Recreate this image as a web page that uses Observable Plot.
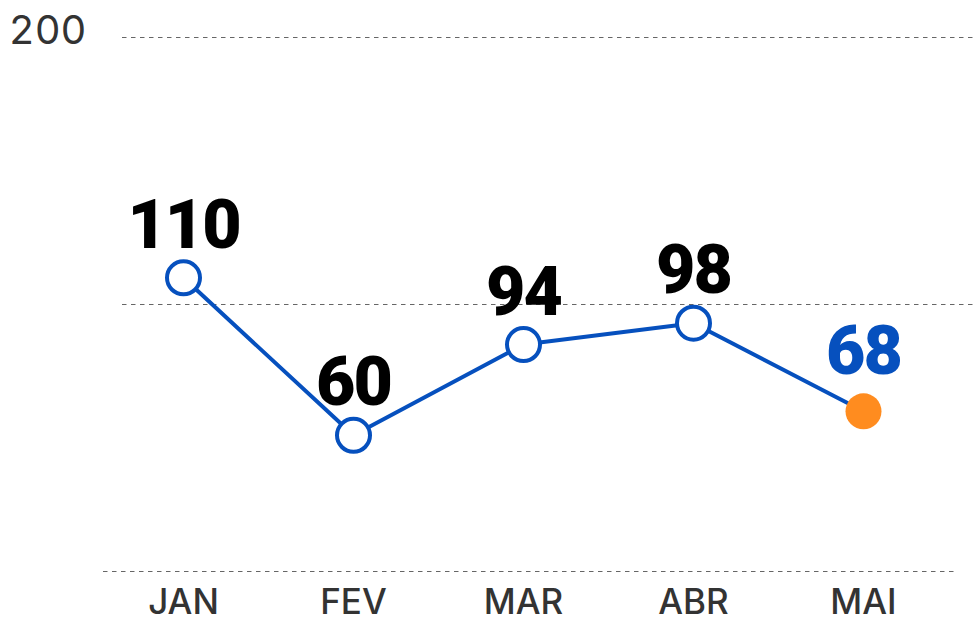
<!DOCTYPE html>
<html>
<head>
<meta charset="utf-8">
<script src="https://cdn.jsdelivr.net/npm/d3@7"></script>
<script src="https://cdn.jsdelivr.net/npm/@observablehq/plot@0.6"></script>
<style>
  html, body { margin: 0; padding: 0; background: #fff; }
  #chart svg { display: block; }
  .vlabel { letter-spacing: -2px; }
</style>
</head>
<body>
<div id="chart"></div>
<script>
const months = ["JAN", "FEV", "MAR", "ABR", "MAI"];
const values = [110, 51, 85, 93, 60];
const valueLabels = ["110", "60", "94", "98", "68"];
const gridValues = [100, 200];
const baseValues = [0];
const yTickValues = [200];

const data = months.map((m, i) => ({ month: m, value: values[i], label: valueLabels[i] }));
const last = months[months.length - 1];

const BLUE = "#0650be";
const ORANGE = "#ff8c1f";
const LABEL_FONT = "Roboto, 'Noto Sans', sans-serif";

const chart = Plot.plot({
  width: 976,
  height: 623,
  marginTop: 37,
  marginBottom: 52,
  marginLeft: 98,
  marginRight: 28,
  style: { fontFamily: "Inter, Roboto, 'Noto Sans', sans-serif", background: "#fff" },
  x: { type: "point", domain: months, padding: 0.5, label: null },
  y: { domain: [0, 200], label: null },
  marks: [
    Plot.ruleY(gridValues, { stroke: "#666", strokeWidth: 1, strokeDasharray: "4.5,4.5", insetLeft: 24, insetRight: -28 }),
    Plot.ruleY(baseValues, { stroke: "#666", strokeWidth: 1, strokeDasharray: "4.5,4.5", insetLeft: 5, insetRight: -9 }),
    Plot.axisY(yTickValues, { tickSize: 0, tickPadding: 12, fontSize: 40, fill: "#333", dy: -6, label: null }),
    Plot.axisX({ tickSize: 0, tickPadding: 18, fontSize: 35, fontWeight: 500, fill: "#333", label: null }),
    Plot.line(data, { x: "month", y: "value", stroke: BLUE, strokeWidth: 4 }),
    Plot.dot(data.filter(d => d.month !== last), { x: "month", y: "value", r: 16.5, fill: "#fff", stroke: BLUE, strokeWidth: 4 }),
    Plot.dot(data.filter(d => d.month === last), { x: "month", y: "value", r: 18, fill: ORANGE, stroke: "none" }),
    Plot.text(data.filter(d => d.month !== last), { x: "month", y: "value", text: "label", lineAnchor: "bottom", dy: -30, fontSize: 68, fontWeight: 900, fontFamily: LABEL_FONT, fill: "#000", className: "vlabel" }),
    Plot.text(data.filter(d => d.month === last), { x: "month", y: "value", text: "label", lineAnchor: "bottom", dy: -37, fontSize: 68, fontWeight: 900, fontFamily: LABEL_FONT, fill: BLUE, className: "vlabel" })
  ]
});
document.getElementById("chart").appendChild(chart);
</script>
</body>
</html>
